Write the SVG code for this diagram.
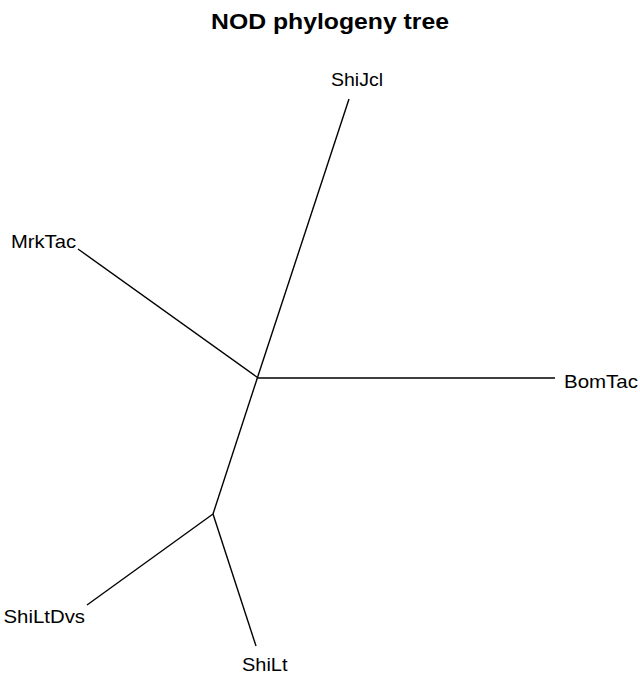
<svg xmlns="http://www.w3.org/2000/svg" width="640" height="676" viewBox="0 0 640 676">
<style>
.lbl{font-family:"Liberation Sans",Arial,sans-serif;font-size:19px;fill:#000}
.ttl{font-family:"Liberation Sans",Arial,sans-serif;font-size:22px;font-weight:bold;fill:#000}
.edge{stroke:#000;stroke-width:1.4;fill:none}
</style>
<rect width="640" height="676" fill="#fff"/>
<text class="ttl" x="211" y="29" textLength="238" lengthAdjust="spacingAndGlyphs">NOD phylogeny tree</text>
<g id="connectors">
<line class="edge" x1="257.5" y1="377.5" x2="349" y2="99"/>
<line class="edge" x1="257.5" y1="377.5" x2="78" y2="249"/>
<line class="edge" x1="257.5" y1="378" x2="555" y2="378"/>
<line class="edge" x1="257.5" y1="377.5" x2="213" y2="514"/>
<line class="edge" x1="213" y1="514" x2="87" y2="605"/>
<line class="edge" x1="213" y1="514" x2="256" y2="646"/>
</g>
<g id="ShiJcl"><text class="lbl" x="331" y="86" textLength="52" lengthAdjust="spacingAndGlyphs">ShiJcl</text></g>
<g id="MrkTac"><text class="lbl" x="11" y="247.5" textLength="65" lengthAdjust="spacingAndGlyphs">MrkTac</text></g>
<g id="BomTac"><text class="lbl" x="564" y="387.5" textLength="74" lengthAdjust="spacingAndGlyphs">BomTac</text></g>
<g id="ShiLtDvs"><text class="lbl" x="3.5" y="623" textLength="81.5" lengthAdjust="spacingAndGlyphs">ShiLtDvs</text></g>
<g id="ShiLt"><text class="lbl" x="242" y="670.5" textLength="45.5" lengthAdjust="spacingAndGlyphs">ShiLt</text></g>
</svg>
